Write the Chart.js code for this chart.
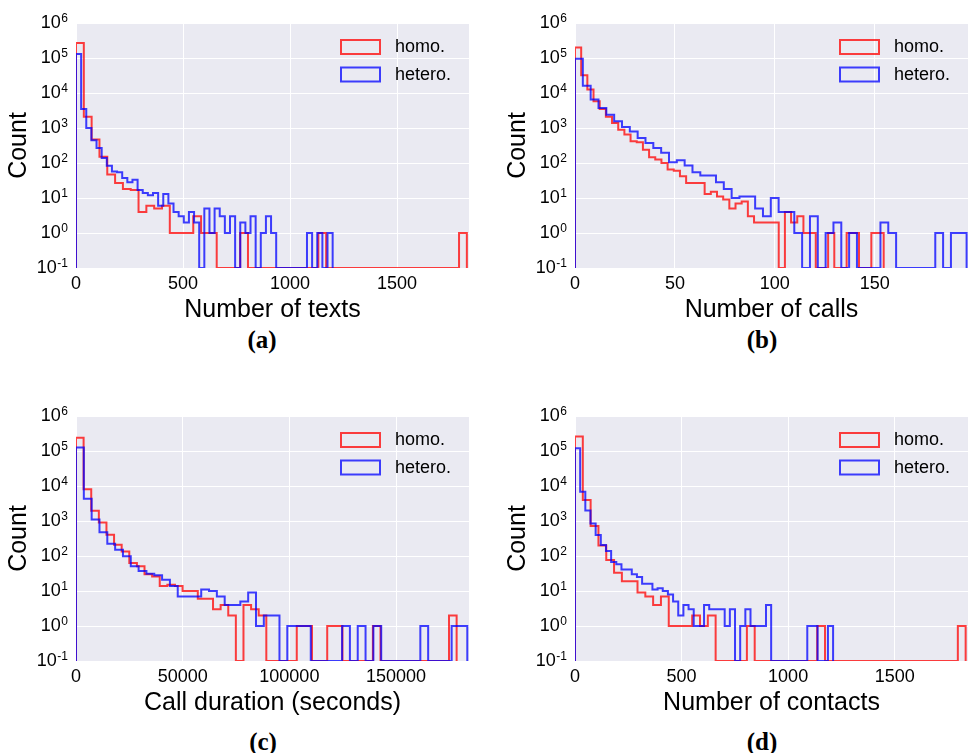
<!DOCTYPE html>
<html>
<head>
<meta charset="utf-8">
<script src="https://cdn.jsdelivr.net/npm/chart.js@4.4.1/dist/chart.umd.min.js"></script>
<style>
  html, body { margin: 0; padding: 0; background: #fff; }
  body { width: 969px; height: 753px; position: relative; overflow: hidden; }
  canvas { position: absolute; }
  .tag { position: absolute; font: bold 25px "Liberation Serif", "Times New Roman", serif; color: #000;
         transform: translate(-50%, -50%); white-space: nowrap; }
</style>
</head>
<body>
<canvas id="chartA" width="470" height="325" style="left:0;top:0"></canvas>
<canvas id="chartB" width="470" height="325" style="left:499px;top:0"></canvas>
<canvas id="chartC" width="470" height="325" style="left:0;top:393px"></canvas>
<canvas id="chartD" width="470" height="325" style="left:499px;top:393px"></canvas>
<div class="tag" style="left:262px;top:340px">(a)</div>
<div class="tag" style="left:762px;top:340px">(b)</div>
<div class="tag" style="left:263px;top:742px">(c)</div>
<div class="tag" style="left:762px;top:742px">(d)</div>
<script>
// y axis: decades 10^-1 .. 10^6
const countExponents = [-1, 0, 1, 2, 3, 4, 5, 6];

// (a) number of texts, 50 bins each
const textsTicks = [0, 500, 1000, 1500];
const textsAxisMax = 1836;
const textsHomoMax = 1826;
const textsHomo = [
  270000, 2100, 470, 150, 47, 27, 18, 17, 4, 6,
  5, 6, 1, 1, 1, 3, 1, 1, 0, 0,
  0, 1, 0, 0, 0, 0, 0, 0, 0, 0,
  0, 1, 0, 0, 0, 0, 0, 0, 0, 0,
  0, 0, 0, 0, 0, 0, 0, 0, 0, 1
];
const textsHeteroMax = 1199;
const textsHetero = [
  130000, 3500, 1000, 450, 270, 140, 83, 57, 54, 37,
  28, 33, 17, 14, 12, 14, 6, 13, 7, 4,
  3, 2, 4, 2, 0, 5, 1, 5, 3, 1,
  3, 0, 2, 1, 3, 0, 1, 3, 1, 0,
  0, 0, 0, 0, 0, 1, 0, 1, 0, 1
];

// (b) number of calls
const callsTicks = [0, 50, 100, 150];
const callsAxisMax = 196.7;
const callsHomoMax = 154.5;
const callsHomo = [
  200000, 32000, 12600, 5800, 3500, 2100, 1380, 890, 650, 415,
  390, 240, 145, 125, 100, 65, 60, 42, 27, 27,
  27, 13, 15, 11, 9, 5, 7, 8, 3, 2,
  2, 2, 2, 0, 4, 2, 3, 1, 1, 0,
  0, 1, 0, 0, 1, 1, 0, 0, 1, 1
];
const callsHeteroMax = 196;
const callsHetero = [
  95000, 16000, 6500, 3700, 2400, 1550, 1070, 800, 515, 370,
  270, 195, 105, 120, 85, 54, 44, 44, 28, 18,
  10, 11, 11, 5, 3, 10, 4, 4, 1, 0,
  3, 0, 1, 2, 0, 1, 0, 0, 0, 2,
  1, 0, 0, 0, 0, 0, 1, 0, 1, 1
];

// (c) call duration (seconds)
const durationTicks = [0, 50000, 100000, 150000];
const durationAxisMax = 184200;
const durationHomoMax = 178400;
const durationHomo = [
  240000, 8100, 1950, 910, 405, 210, 135, 63, 51, 30,
  26, 14, 15, 14, 10, 10, 6, 6, 3, 4,
  2, 0, 4, 3, 2, 0, 0, 0, 0, 1,
  1, 0, 0, 1, 1, 0, 0, 0, 0, 1,
  0, 0, 0, 0, 0, 0, 0, 0, 0, 2
];
const durationHeteroMax = 183400;
const durationHetero = [
  126000, 4300, 1100, 480, 225, 152, 98, 51, 37, 31,
  28, 21, 14, 7, 7, 7, 11, 10, 7, 4,
  4, 5, 9, 1, 2, 2, 0, 1, 1, 1,
  0, 0, 0, 0, 1, 0, 1, 0, 1, 0,
  0, 0, 0, 0, 1, 0, 0, 0, 1, 1
];

// (d) number of contacts
const contactsTicks = [0, 500, 1000, 1500];
const contactsAxisMax = 1844;
const contactsHomoMax = 1833;
const contactsHomo = [
  260000, 4000, 720, 200, 77, 33, 19, 19, 9, 7,
  4, 7, 1, 1, 1, 2, 1, 2, 0, 0,
  0, 0, 1, 0, 0, 0, 0, 0, 0, 0,
  0, 1, 0, 0, 0, 0, 0, 0, 0, 0,
  0, 0, 0, 0, 0, 0, 0, 0, 0, 1
];
const contactsHeteroMax = 1211;
const contactsHetero = [
  120000, 6900, 2000, 850, 400, 205, 138, 67, 58, 41,
  41, 30, 25, 16, 16, 11, 12, 10, 8, 5,
  2, 4, 3, 1, 1, 4, 3, 3, 3, 1,
  3, 0, 1, 3, 1, 1, 1, 4, 0, 0,
  0, 0, 0, 0, 0, 1, 1, 0, 0, 1
];

const FONT = '"Liberation Sans", Arial, sans-serif';
const RED = 'rgba(255, 0, 0, 0.75)';
const BLUE = 'rgba(0, 0, 255, 0.75)';
const FLOOR = 0.1;

// outline of a step histogram; empty bins sit on the axis floor like matplotlib does
function stepPoints(counts, maxX) {
  const w = maxX / counts.length;
  const pts = [{ x: 0, y: FLOOR }];
  counts.forEach((c, i) => pts.push({ x: i * w, y: c > 0 ? c : FLOOR }));
  const last = counts[counts.length - 1];
  pts.push({ x: maxX, y: last > 0 ? last : FLOOR });
  pts.push({ x: maxX, y: FLOOR });
  return pts;
}

const bgPlugin = {
  id: 'plotBg',
  beforeDraw(chart) {
    const { ctx, chartArea: a } = chart;
    ctx.save();
    ctx.fillStyle = '#EAEAF2';
    ctx.fillRect(a.left, a.top, a.right - a.left, a.bottom - a.top);
    ctx.restore();
  }
};

// "10" with a raised exponent, the way matplotlib writes log ticks
const powerLabels = {
  id: 'powerLabels',
  afterDraw(chart) {
    const { ctx, chartArea: a } = chart;
    const y = chart.scales.y;
    const right = a.left - 8;
    ctx.save();
    ctx.fillStyle = '#000';
    ctx.textAlign = 'right';
    countExponents.forEach(e => {
      const py = y.getPixelForValue(Math.pow(10, e));
      const exp = String(e);
      ctx.font = '12px ' + FONT;
      const ew = ctx.measureText(exp).width;
      ctx.textBaseline = 'alphabetic';
      ctx.fillText(exp, right, py - 1.5);
      ctx.font = '18px ' + FONT;
      ctx.textBaseline = 'middle';
      ctx.fillText('10', right - ew - 0.5, py);
    });
    ctx.restore();
  }
};

// legend inside the plot, upper right, with hollow boxes
const legendPlugin = {
  id: 'innerLegend',
  afterDraw(chart) {
    const { ctx, chartArea: a } = chart;
    const x0 = a.right - 128;
    ctx.save();
    ctx.font = '18px ' + FONT;
    ctx.textBaseline = 'middle';
    ctx.textAlign = 'left';
    chart.data.datasets.forEach((ds, i) => {
      const top = a.top + 17 + i * 27.5;
      ctx.strokeStyle = ds.borderColor;
      ctx.lineWidth = 2;
      ctx.strokeRect(x0, top, 39, 14);
      ctx.fillStyle = '#000';
      ctx.fillText(ds.label, x0 + 54, top + 7.5);
    });
    ctx.restore();
  }
};

function makePanel(id, xTitle, xTicks, xMax, homo, homoMax, hetero, heteroMax) {
  new Chart(document.getElementById(id), {
    type: 'line',
    data: {
      datasets: [
        { label: 'homo.', data: stepPoints(homo, homoMax), borderColor: RED, order: 1 },
        { label: 'hetero.', data: stepPoints(hetero, heteroMax), borderColor: BLUE, order: 0 }
      ]
    },
    options: {
      responsive: false,
      animation: false,
      layout: { padding: { left: 4, top: 23, right: 1, bottom: 0 } },
      elements: {
        point: { radius: 0 },
        line: { borderWidth: 2, stepped: 'before', fill: false, tension: 0 }
      },
      plugins: { legend: { display: false }, tooltip: { enabled: false } },
      scales: {
        x: {
          type: 'linear',
          min: 0,
          max: xMax,
          afterBuildTicks: s => { s.ticks = xTicks.map(v => ({ value: v })); },
          afterFit: s => { s.height = 57; },
          grid: { color: '#ffffff', lineWidth: 1, drawTicks: false },
          border: { display: false },
          ticks: {
            padding: 5, color: '#000', autoSkip: false, maxRotation: 0,
            font: { size: 18, family: FONT },
            callback: v => String(v)
          },
          title: { display: true, text: xTitle, color: '#000', padding: 0,
                   font: { size: 25, family: FONT } }
        },
        y: {
          type: 'logarithmic',
          min: FLOOR,
          max: 1e6,
          afterBuildTicks: s => {
            s.ticks = countExponents.map(e => ({ value: Math.pow(10, e), major: true }));
          },
          afterFit: s => { s.width = 72; },
          grid: { color: '#ffffff', lineWidth: 1, drawTicks: false },
          border: { display: false },
          ticks: { display: false },
          title: { display: true, text: 'Count', color: '#000', padding: 0,
                   font: { size: 25, family: FONT } }
        }
      }
    },
    plugins: [bgPlugin, powerLabels, legendPlugin]
  });
}

makePanel('chartA', 'Number of texts', textsTicks, textsAxisMax,
  textsHomo, textsHomoMax, textsHetero, textsHeteroMax);
makePanel('chartB', 'Number of calls', callsTicks, callsAxisMax,
  callsHomo, callsHomoMax, callsHetero, callsHeteroMax);
makePanel('chartC', 'Call duration (seconds)', durationTicks, durationAxisMax,
  durationHomo, durationHomoMax, durationHetero, durationHeteroMax);
makePanel('chartD', 'Number of contacts', contactsTicks, contactsAxisMax,
  contactsHomo, contactsHomoMax, contactsHetero, contactsHeteroMax);
</script>
</body>
</html>
